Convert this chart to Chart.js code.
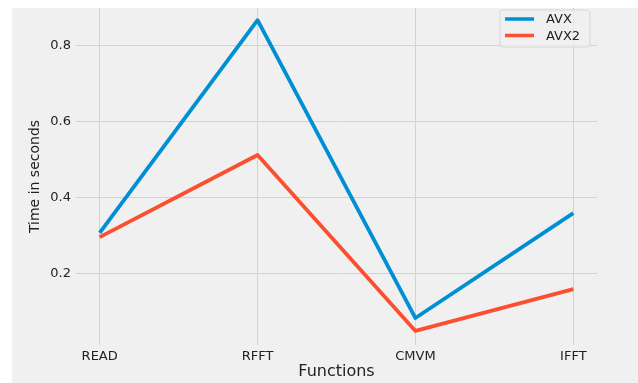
<!DOCTYPE html>
<html>
<head>
<meta charset="utf-8">
<script src="https://cdn.jsdelivr.net/npm/chart.js@4/dist/chart.umd.min.js"></script>
<style>
  html, body { margin: 0; background: #fff; }
  #wrap { width: 638px; height: 383px; }
</style>
</head>
<body>
<div id="wrap"><canvas id="timeChart"></canvas></div>
<script>
const functions = ["READ", "RFFT", "CMVM", "IFFT"];
const avxTimes = [0.308, 0.868, 0.084, 0.36];
const avx2Times = [0.297, 0.513, 0.05, 0.16];
const yTicks = [0.2, 0.4, 0.6, 0.8];

const font = "'DejaVu Sans', sans-serif";

// gray figure background, white strip on top and left like the original
const figureBg = {
  id: "figureBg",
  beforeDraw(chart) {
    const ctx = chart.ctx;
    ctx.save();
    ctx.fillStyle = "#f0f0f0";
    ctx.fillRect(12, 8, chart.width - 12, chart.height - 8);
    ctx.restore();
  },
};

// matplotlib-like legend box in the upper right corner
const boxLegend = {
  id: "boxLegend",
  afterDatasetsDraw(chart) {
    const ctx = chart.ctx;
    const area = chart.chartArea;
    const x = area.right - 97;
    const y = area.top + 2;
    ctx.save();
    ctx.beginPath();
    ctx.roundRect(x, y, 90, 37, 3);
    ctx.fillStyle = "rgba(240,240,240,0.8)";
    ctx.fill();
    ctx.strokeStyle = "#d8d8d8";
    ctx.lineWidth = 1;
    ctx.stroke();
    chart.data.datasets.forEach((ds, i) => {
      const ly = y + 9 + i * 16.5;
      ctx.beginPath();
      ctx.moveTo(x + 5, ly);
      ctx.lineTo(x + 34, ly);
      ctx.strokeStyle = ds.borderColor;
      ctx.lineWidth = 3.5;
      ctx.stroke();
      ctx.fillStyle = "#222";
      ctx.font = "13px " + font;
      ctx.textBaseline = "middle";
      ctx.fillText(ds.label, x + 46, ly + 1);
    });
    ctx.restore();
  },
};

const toPoints = (values) => values.map((v, i) => ({ x: i, y: v }));

// keep tick labels from pushing the plot area around
const noPad = (s) => {
  s.paddingTop = 0;
  s.paddingBottom = 0;
  s.paddingLeft = 0;
  s.paddingRight = 0;
};

const ctx = document.getElementById("timeChart").getContext("2d");
new Chart(ctx, {
  type: "line",
  data: {
    datasets: [
      {
        label: "AVX",
        data: toPoints(avxTimes),
        borderColor: "#008fd5",
        backgroundColor: "#008fd5",
      },
      {
        label: "AVX2",
        data: toPoints(avx2Times),
        borderColor: "#fc4f30",
        backgroundColor: "#fc4f30",
      },
    ],
  },
  options: {
    responsive: true,
    maintainAspectRatio: false,
    animation: false,
    layout: { padding: { top: 8, right: 41, left: 0, bottom: 0 } },
    elements: {
      point: { radius: 0 },
      line: { borderWidth: 3.8, tension: 0, borderJoinStyle: "round" },
    },
    plugins: {
      legend: { display: false },
      tooltip: { enabled: false },
    },
    scales: {
      x: {
        type: "linear",
        min: -0.15,
        max: 3.15,
        afterBuildTicks: (s) => { s.ticks = functions.map((f, i) => ({ value: i })); },
        afterFit: (s) => { s.height = 38; noPad(s); },
        ticks: {
          callback: (v) => functions[v],
          font: { family: font, size: 13 },
          color: "#222",
          padding: 4,
          maxRotation: 0,
        },
        grid: { color: "#d2d2d2", lineWidth: 1, drawTicks: false },
        border: { display: false },
        title: {
          display: true,
          text: "Functions",
          font: { family: font, size: 16 },
          color: "#222",
          padding: { top: 0, bottom: 2 },
        },
      },
      y: {
        min: 0.013,
        max: 0.9,
        afterBuildTicks: (s) => { s.ticks = yTicks.map((v) => ({ value: v })); },
        afterFit: (s) => { s.width = 76; noPad(s); },
        ticks: {
          callback: (v) => v.toFixed(1),
          font: { family: font, size: 13 },
          color: "#222",
          padding: 5,
        },
        grid: { color: "#d2d2d2", lineWidth: 1, drawTicks: false },
        border: { display: false },
        title: {
          display: true,
          text: "Time in seconds",
          font: { family: font, size: 14 },
          color: "#222",
          padding: { top: 27, bottom: 0 },
        },
      },
    },
  },
  plugins: [figureBg, boxLegend],
});
</script>
</body>
</html>
